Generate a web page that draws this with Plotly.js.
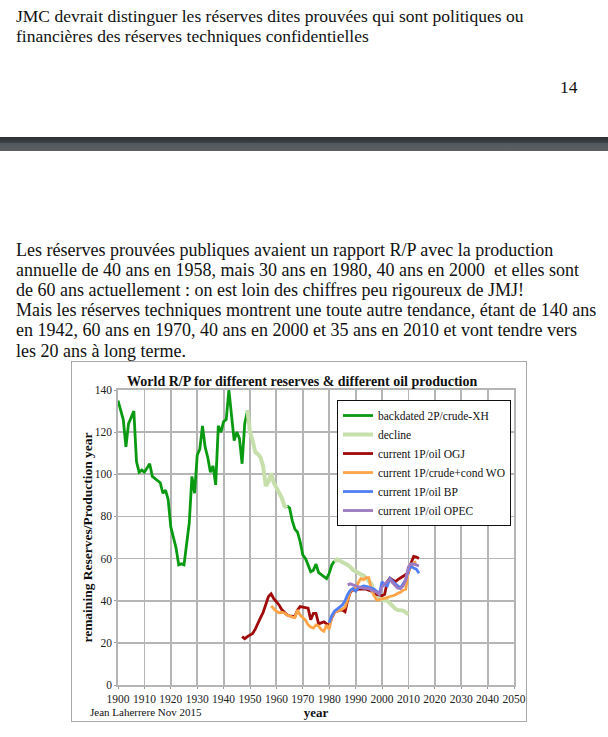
<!DOCTYPE html>
<html>
<head>
<meta charset="utf-8">
<script src="https://cdn.plot.ly/plotly-3.0.1.min.js"></script>
<style>
  html, body { margin:0; padding:0; background:#fff; }
  body { width:608px; height:737px; position:relative; overflow:hidden; font-family:"Liberation Serif","Times New Roman",serif; color:#111; }
  .ln { position:absolute; left:16px; white-space:pre; font-size:18px; line-height:20px; }
  .tp { font-size:17.5px; }
  #band { position:absolute; left:0; top:137px; width:608px; height:14px;
    background:linear-gradient(to bottom,#2c3136 0%,#3a3f44 38%,#53585d 45%,#5b6065 100%); }
  #frame { position:absolute; left:71px; top:361px; width:454px; height:359px; border:1px solid #a8a8a8; }
  #chart { position:absolute; left:0; top:0; width:454px; height:359px; }
</style>
</head>
<body>
<div class="ln tp" style="top:6px">JMC devrait distinguer les réserves dites prouvées qui sont politiques ou</div>
<div class="ln tp" style="top:26px">financières des réserves techniques confidentielles</div>
<div class="ln tp" style="left:560px; top:77px">14</div>
<div id="band"></div>
<div class="ln" style="top:240px">Les réserves prouvées publiques avaient un rapport R/P avec la production</div>
<div class="ln" style="top:260px">annuelle de 40 ans en 1958, mais 30 ans en 1980, 40 ans en 2000  et elles sont</div>
<div class="ln" style="top:280px">de 60 ans actuellement : on est loin des chiffres peu rigoureux de JMJ!</div>
<div class="ln" style="top:300px">Mais les réserves techniques montrent une toute autre tendance, étant de 140 ans</div>
<div class="ln" style="top:320px">en 1942, 60 ans en 1970, 40 ans en 2000 et 35 ans en 2010 et vont tendre vers</div>
<div class="ln" style="top:341px">les 20 ans à long terme.</div>
<div id="frame"><div id="chart"></div></div>
<script>
// ---- data ----
const backdatedYears = [1900,1901,1902,1903,1904,1905,1906,1907,1908,1909,1910,1911,1912,1913,1914,1915,1916,1917,1918,1919,
  1920,1921,1922,1923,1924,1925,1926,1927,1928,1929,1930,1931,1932,1933,1934,1935,1936,1937,1938,1939,
  1940,1941,1942,1943,1944,1945,1946,1947,1948,1949,1950,
  1963,1964,1965,1966,1967,1968,1969,1970,1971,1972,1973,1974,1975,1976,1977,1978,1979,1980,1981,1982];
const backdatedRP = [135,131,126,113,124,127,130,106,101,102,101,103,105,99,98,97,96,91,92.5,88,
  75,70,65,57,57.5,57,68,77,99,91,109,112,123,113,108,101,104,95,123,120,
  125,126,140,129,116,120,117,105,124,130,null,
  null,85,84,78,74,72.5,68,61.7,60,57,53.8,54.5,57.4,53.3,52.5,51.5,50.5,53,57,59];

const declineYears = [1949,1950,1951,1952,1953,1954,1955,1956,1957,1958,1959,1960,1961,1962,1963,1964,1965,
  1981,1982,1983,1984,1985,1986,1987,1988,1989,1990,1991,1992,1993,1994,1995,1996,1997,1998,1999,
  2000,2001,2002,2003,2004,2005,2006,2007,2008,2009,2010];
const declineRP = [130.5,120,116,110.5,109.5,108,103.6,94.4,96.5,100.5,96,93.3,91.5,89,85,84,null,
  null,58.5,59.6,59,58.5,58,57,56,54.6,54,53,52.5,52,50.6,49.5,48,43,41.1,40.8,
  40.3,40.2,40,38.5,37.2,36.2,35.6,35.4,35.3,34.5,33.5];

const ogjYears = [1947,1948,1949,1950,1951,1952,1953,1954,1955,1956,1957,1958,1959,1960,1961,1962,1963,1964,1965,1966,
  1967,1968,1969,1970,1971,1972,1973,1974,1975,1976,1977,1978,1979,1980,1981,1982,1983,1984,1985,1986,
  1987,1988,1989,1990,1991,1992,1993,1994,1995,1996,1997,1998,1999,2000,2001,2002,2003,2004,2005,2006,
  2007,2008,2009,2010,2011,2012,2013,2014];
const ogjRP = [23,22,23,23.7,24.5,26.5,29.5,32,34.5,38.8,42,43.3,41,39.5,38,35.8,34.5,33.3,32.8,32.5,
  32.4,35.6,37.2,37,36.6,36.5,31,34,34,29,29.5,30,29,28,32,34.5,35,35.5,35.6,34.8,
  40.3,44,45.4,45,45.5,45.5,45.8,45.5,45,44.5,44,43,42.8,42.4,43,49,50.7,50,49,50,
  51,51.6,52.5,53.2,57.8,61,60.7,60];

const woYears = [1958,1959,1960,1961,1962,1963,1964,1965,1966,1967,1968,1969,1970,1971,1972,1973,1974,1975,1976,1977,
  1978,1979,1980,1981,1982,1983,1984,1985,1986,1987,1988,1989,1990,1991,1992,1993,1994,1995,1996,1997,
  1998,1999,2000,2001,2002,2003,2004,2005,2006,2007,2008,2009,2010,2011,2012,2013];
const woRP = [37.5,36,35,34.3,34.5,34.2,33.2,32.8,32.2,32,35.6,33.2,32,30.8,28.5,27.5,27,28.5,28,26.2,
  25.5,28.5,26.5,32.4,34.5,35,35.5,36,37,41,44.5,45.5,46,48.5,50.5,50,51,51,45,42.5,
  40.3,40.5,40.8,41,41.5,42,42.3,42.7,43.5,44,45,45.5,54,56,58,58.5];

const bpYears = [1980,1981,1982,1983,1984,1985,1986,1987,1988,1989,1990,1991,1992,1993,1994,1995,1996,1997,1998,1999,
  2000,2001,2002,2003,2004,2005,2006,2007,2008,2009,2010,2011,2012,2013,2014];
const bpRP = [29.5,33,35,36,36.8,38,40,43,45,45.8,44.5,46,46.5,47,46.8,46.5,46,45.5,44.5,43,
  49,47.5,47,50.5,49,48,47,46,48,50,54.5,56.5,55.5,55,53];

const opecYears = [1987,1988,1989,1990,1991,1992,1993,1994,1995,1996,1997,1998,1999,2000,2001,2002,2003,2004,2005,2006,
  2007,2008,2009,2010,2011,2012,2013,2014];
const opecRP = [47.5,48,47.5,47,46.5,46.2,46,46,45.8,45,44.5,44,43,46.5,48,49,50.2,48.5,47,46,
  45.8,47,50,56,57.5,57.5,57,56.5];

const seriesNames = ["backdated 2P/crude-XH","decline","current 1P/oil OGJ","current 1P/crude+cond WO","current 1P/oil BP","current 1P/oil OPEC"];
const xTickVals = [1900,1910,1920,1930,1940,1950,1960,1970,1980,1990,2000,2010,2020,2030,2040,2050];
const yTickVals = [0,20,40,60,80,100,120,140];

// ---- chart ----
const F = '"Liberation Serif","Times New Roman",serif';
function tr(x, y, name, color, width) {
  return {x:x, y:y, name:name, type:'scatter', mode:'lines', connectgaps:false,
          line:{color:color, width:width, shape:'linear'}, hoverinfo:'skip'};
}
const traces = [
  tr(backdatedYears, backdatedRP, seriesNames[0], '#0a9a12', 2.8),
  tr(declineYears, declineRP, seriesNames[1], '#c6dfab', 4),
  tr(ogjYears, ogjRP, seriesNames[2], '#a00a0a', 2.8),
  tr(woYears, woRP, seriesNames[3], '#ffa548', 2.8),
  tr(bpYears, bpRP, seriesNames[4], '#4f7ef7', 2.8),
  tr(opecYears, opecRP, seriesNames[5], '#9b7ac2', 2.8)
];
const axisCommon = {showgrid:true, gridcolor:'#b5b5b5', gridwidth:1.8, showline:true, linecolor:'#b5b5b5', linewidth:1.8,
  mirror:true, zeroline:false, ticks:'outside', ticklen:2, tickcolor:'#999', tickwidth:1,
  tickfont:{family:F, size:11.5, color:'#222'}, fixedrange:true};
const layout = {
  width:454, height:359,
  margin:{l:46, r:12, t:28, b:36, pad:0},
  paper_bgcolor:'#fff', plot_bgcolor:'#fff',
  showlegend:true,
  title:{text:'<b>World R/P for different reserves & different oil production</b>', font:{family:F, size:14, color:'#111'},
         xref:'container', x:0.507, xanchor:'center', yref:'container', y:0.947, yanchor:'middle'},
  xaxis:Object.assign({}, axisCommon, {range:[1900,2050], tickvals:xTickVals, ticktext:xTickVals.map(String),
         title:{text:'<b>year</b>', font:{family:F, size:13, color:'#111'}, standoff:2}}),
  yaxis:Object.assign({}, axisCommon, {range:[0,140], tickvals:yTickVals, ticktext:yTickVals.map(String)}),
  legend:{x:0.553, y:0.966, xanchor:'left', yanchor:'top', bgcolor:'#fff', bordercolor:'#111', borderwidth:1,
          font:{family:F, size:11.5, color:'#111'}, itemwidth:30, tracegroupgap:0, itemclick:false, itemdoubleclick:false},
  annotations:[
    {text:'<b>remaining Reserves/Production year</b>', xref:'paper', yref:'paper', x:-0.078, y:0.5,
     xanchor:'center', yanchor:'middle', textangle:-90, showarrow:false, font:{family:F, size:13.5, color:'#111'}},
    {text:'Jean Laherrere Nov 2015', xref:'paper', yref:'paper', x:-0.076, y:-0.093, xanchor:'left', yanchor:'middle',
     showarrow:false, font:{family:F, size:11, color:'#111'}}
  ]
};
Plotly.newPlot('chart', traces, layout, {displayModeBar:false, staticPlot:true});
</script>
</body>
</html>
